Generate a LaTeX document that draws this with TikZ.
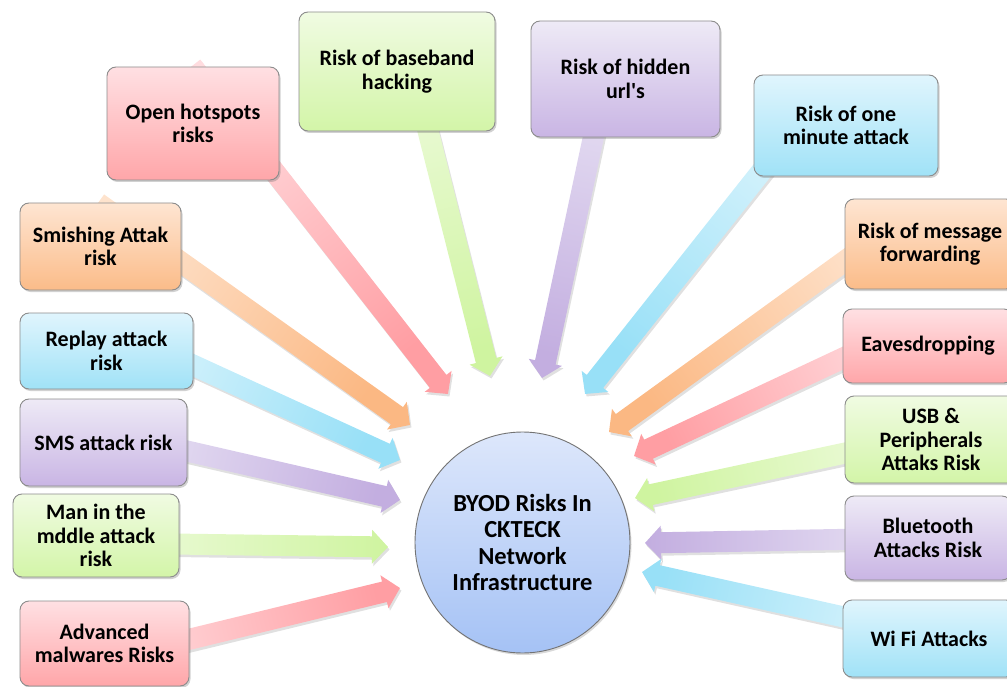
\documentclass[tikz,border=0pt]{standalone}
\usepackage{fontspec}
\setmainfont{Carlito}[Ligatures=TeXOff]
\usetikzlibrary{calc,shadows,shapes.geometric}

% box fills (top / bottom)
\definecolor{redTop}{HTML}{FFE0E3}   \definecolor{redBot}{HTML}{FFA6A9}
\definecolor{greenTop}{HTML}{F0FBE2} \definecolor{greenBot}{HTML}{D3F5A8}
\definecolor{purpleTop}{HTML}{EEEAF6}\definecolor{purpleBot}{HTML}{C9B5E4}
\definecolor{blueTop}{HTML}{E0F5FD}  \definecolor{blueBot}{HTML}{A0E2F7}
\definecolor{orangeTop}{HTML}{FEE5D2}\definecolor{orangeBot}{HTML}{FBBC89}
% arrow fills (tail / head)
\definecolor{redTail}{HTML}{FFDCDF}   \definecolor{redHead}{HTML}{FF9EA3}
\definecolor{greenTail}{HTML}{EEFBDD} \definecolor{greenHead}{HTML}{CFF4A0}
\definecolor{purpleTail}{HTML}{E9E3F4}\definecolor{purpleHead}{HTML}{C3AEE0}
\definecolor{blueTail}{HTML}{DBF4FC}  \definecolor{blueHead}{HTML}{98E0F7}
\definecolor{orangeTail}{HTML}{FEE3CD}\definecolor{orangeHead}{HTML}{FBB883}
% centre ellipse
\definecolor{coreTop}{HTML}{DDE7FB}   \definecolor{coreBot}{HTML}{A5C2F5}

\tikzset{
  riskbox/.style={draw=black!45, line width=0.9pt, rounded corners=9pt,
    align=center, inner sep=0pt,
    font=\bfseries\fontsize{22pt}{23.5pt}\selectfont,
    drop shadow={shadow xshift=1.5pt, shadow yshift=-2pt, opacity=0.3, fill=black!60}},
  redbox/.style={riskbox, top color=redTop, bottom color=redBot},
  greenbox/.style={riskbox, top color=greenTop, bottom color=greenBot},
  purplebox/.style={riskbox, top color=purpleTop, bottom color=purpleBot},
  bluebox/.style={riskbox, top color=blueTop, bottom color=blueBot},
  orangebox/.style={riskbox, top color=orangeTop, bottom color=orangeBot},
}

% block arrow from #1 (tail) to #2 (tip), colour family #3
\newcommand\riskarrow[3]{%
  \path let \p1=(#1), \p2=(#2) in \pgfextra{%
    \pgfmathsetmacro\ArrAng{atan2(\y2-\y1,\x2-\x1)}%
    \pgfmathsetmacro\ArrLen{veclen(\x2-\x1,\y2-\y1)}%
    \pgfmathsetmacro\ShAng{\ArrAng+90}%
    \global\let\ArrAng\ArrAng \global\let\ArrLen\ArrLen \global\let\ShAng\ShAng};
  \fill[black, opacity=0.12, shift={(#1)}, shift={(1.5,-2.5)}, rotate=\ArrAng]
    (0,-10.5) -- ({\ArrLen-16},-10.5) -- ({\ArrLen-16},-17) -- (\ArrLen,0)
    -- ({\ArrLen-16},17) -- ({\ArrLen-16},10.5) -- (0,10.5) -- cycle;
  \shade[left color=#3Tail, right color=#3Head, shading angle=\ShAng,
         shift={(#1)}, rotate=\ArrAng]
    (0,-10.5) -- ({\ArrLen-16},-10.5) -- ({\ArrLen-16},-17) -- (\ArrLen,0)
    -- ({\ArrLen-16},17) -- ({\ArrLen-16},10.5) -- (0,10.5) -- cycle;
}

\begin{document}
\begin{tikzpicture}[x=1pt,y=1pt]
\path[use as bounding box] (0,0) rectangle (1007,-687);
\clip (0,0) rectangle (1007,-687);

% arrow ends
\coordinate (hot-t) at (192,-66);    \coordinate (hot-h) at (448,-394);
\coordinate (base-t) at (405,-40);   \coordinate (base-h) at (490,-376);
\coordinate (url-t) at (612,-50);    \coordinate (url-h) at (542,-378);
\coordinate (min-t) at (818,-100);   \coordinate (min-h) at (585,-394);
\coordinate (msg-t) at (900,-221);   \coordinate (msg-h) at (609,-432);
\coordinate (eav-t) at (920,-322);   \coordinate (eav-h) at (634,-456);
\coordinate (usb-t) at (920,-437);   \coordinate (usb-h) at (635,-498);
\coordinate (bt-t) at (920,-538);    \coordinate (bt-h) at (645,-543);
\coordinate (wifi-t) at (920,-634);  \coordinate (wifi-h) at (642,-572);
\coordinate (smi-t) at (98,-203);    \coordinate (smi-h) at (410,-425);
\coordinate (rep-t) at (110,-327);   \coordinate (rep-h) at (400,-460);
\coordinate (sms-t) at (100,-431);   \coordinate (sms-h) at (400,-500);
\coordinate (mitm-t) at (100,-543);  \coordinate (mitm-h) at (388,-547);
\coordinate (adv-t) at (100,-661);   \coordinate (adv-h) at (400,-588);

% arrows pointing at the centre
\riskarrow{hot-t}{hot-h}{red}
\riskarrow{base-t}{base-h}{green}
\riskarrow{url-t}{url-h}{purple}
\riskarrow{min-t}{min-h}{blue}
\riskarrow{msg-t}{msg-h}{orange}
\riskarrow{eav-t}{eav-h}{red}
\riskarrow{usb-t}{usb-h}{green}
\riskarrow{bt-t}{bt-h}{purple}
\riskarrow{wifi-t}{wifi-h}{blue}
\riskarrow{smi-t}{smi-h}{orange}
\riskarrow{rep-t}{rep-h}{blue}
\riskarrow{sms-t}{sms-h}{purple}
\riskarrow{mitm-t}{mitm-h}{green}
\riskarrow{adv-t}{adv-h}{red}

% risk boxes
\node[redbox, minimum width=172pt, minimum height=113pt] (hot) at (193,-123.5) {Open hotspots\\risks};
\node[greenbox, minimum width=196pt, minimum height=119pt] (base) at (397,-71.5) {Risk of baseband\\hacking};
\node[purplebox, minimum width=189pt, minimum height=116pt] (url) at (625.5,-79) {Risk of hidden\\url's};
\node[bluebox, minimum width=184pt, minimum height=101pt] (min) at (846,-125.5) {Risk of one\\minute attack};
\node[orangebox, minimum width=170pt, minimum height=90pt] (msg) at (930,-244) {Risk of message\\forwarding};
\node[redbox, minimum width=170pt, minimum height=74pt] (eav) at (928,-346) {Eavesdropping};
\node[greenbox, minimum width=172pt, minimum height=87pt] (usb) at (931,-439.5) {USB \&\\Peripherals\\Attaks Risk};
\node[purplebox, minimum width=166pt, minimum height=84pt] (bt) at (928,-538) {Bluetooth\\Attacks Risk};
\node[bluebox, minimum width=172pt, minimum height=77pt] (wifi) at (929,-638.5) {Wi Fi Attacks};
\node[orangebox, minimum width=161pt, minimum height=87pt] (smi) at (100.5,-246.5) {Smishing Attak\\risk};
\node[bluebox, minimum width=173pt, minimum height=76pt] (rep) at (106.5,-351) {Replay attack\\risk};
\node[purplebox, minimum width=167pt, minimum height=87pt] (sms) at (103.5,-442.5) {SMS attack risk};
\node[greenbox, minimum width=166pt, minimum height=83pt] (mitm) at (96,-535.5) {Man in the\\mddle attack\\risk};
\node[redbox, minimum width=169pt, minimum height=85pt] (adv) at (104.5,-643.5) {Advanced\\malwares Risks};

% centre
\node[ellipse, draw=black!55, line width=0.9pt, inner sep=0pt,
      minimum width=215pt, minimum height=221pt,
      top color=coreTop, bottom color=coreBot, align=center,
      font=\bfseries\fontsize{24.5pt}{26.3pt}\selectfont,
      drop shadow={shadow xshift=1.5pt, shadow yshift=-2pt, opacity=0.25, fill=black!60}]
  (core) at (522.5,-542.5) {BYOD Risks In\\CKTECK\\Network\\Infrastructure};
\end{tikzpicture}
\end{document}
